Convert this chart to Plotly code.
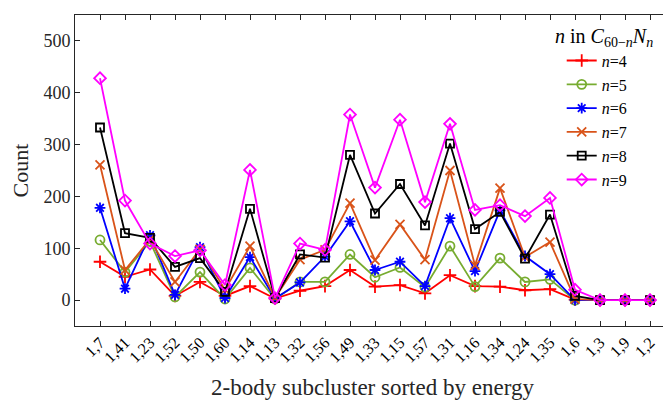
import plotly.graph_objects as go

categories = ["1,7", "1,41", "1,23", "1,52", "1,50", "1,60", "1,14", "1,13", "1,32", "1,56",
              "1,49", "1,33", "1,15", "1,57", "1,31", "1,16", "1,34", "1,24", "1,35", "1,6",
              "1,3", "1,9", "1,2"]

n4 = [74, 45, 59, 8, 35, 8, 27, 3, 18, 27, 58, 26, 29, 13, 48, 27, 26, 19, 21, 1, 0, 0, 0]
n5 = [116, 54, 113, 6, 54, 2, 62, 2, 35, 35, 88, 44, 63, 25, 104, 26, 81, 35, 40, 0, 0, 0, 0]
n6 = [178, 22, 125, 10, 102, 4, 83, 3, 34, 84, 152, 58, 74, 27, 158, 56, 173, 85, 50, 0, 0, 0, 0]
n7 = [261, 58, 117, 35, 98, 20, 104, 4, 78, 97, 187, 77, 146, 78, 250, 67, 216, 83, 112, 2, 0, 0, 0]
n8 = [333, 129, 120, 64, 81, 16, 176, 4, 88, 82, 280, 167, 224, 144, 302, 137, 170, 80, 165, 8, 0, 0, 0]
n9 = [428, 192, 109, 85, 96, 29, 251, 4, 109, 97, 358, 217, 348, 189, 340, 174, 183, 162, 197, 20, 0, 0, 0]

series = [
    ("4", n4, "#FF0000", "cross-thin-open"),
    ("5", n5, "#77AC30", "circle-open"),
    ("6", n6, "#0000FF", "asterisk-open"),
    ("7", n7, "#D95319", "x-thin-open"),
    ("8", n8, "#000000", "square-open"),
    ("9", n9, "#FF00FF", "diamond-open"),
]

xpos = list(range(len(categories)))

fig = go.Figure()
for name, vals, col, sym in series:
    fig.add_trace(go.Scatter(
        x=xpos, y=vals, mode="lines+markers",
        name="<i>n</i>=" + name,
        line=dict(color=col, width=1.8),
        marker=dict(symbol=sym, size=9 if sym != "square-open" else 8,
                    color=col, line=dict(color=col, width=1.8)),
    ))

serif = "Liberation Serif, Times New Roman, serif"
fig.update_layout(
    width=663, height=396,
    margin=dict(l=67, r=1, t=7, b=78, autoexpand=False),
    paper_bgcolor="white", plot_bgcolor="white",
    font=dict(family=serif, size=16, color="#262626"),
    showlegend=True,
    legend=dict(
        x=0.818, y=0.908, xanchor="left", yanchor="top",
        bgcolor="rgba(255,255,255,0)", borderwidth=0,
        font=dict(size=16, family=serif, color="#000"),
        tracegroupgap=0,
    ),
    annotations=[dict(
        text="<i>n</i> in <i>C</i><sub>60−<i>n</i></sub><i>N</i><sub><i>n</i></sub>",
        xref="paper", yref="paper", x=0.975, y=0.929, xanchor="right", yanchor="middle",
        showarrow=False, font=dict(size=20, family=serif, color="#000"),
    )],
    xaxis=dict(
        range=[-1, 22.8], automargin=False,
        tickmode="array", tickvals=xpos, ticktext=categories,
        tickangle=-45, tickfont=dict(size=16, family=serif, color="#000"),
        ticks="inside", ticklen=5, tickcolor="#262626",
        showline=True, linecolor="#262626", linewidth=1, mirror="ticks",
        showgrid=False, zeroline=False,
        title=dict(text="2-body subcluster sorted by energy",
                   font=dict(size=23, family=serif, color="#262626"), standoff=14),
    ),
    yaxis=dict(
        range=[-50, 550], automargin=False,
        tickvals=[0, 100, 200, 300, 400, 500],
        tickfont=dict(size=18, family=serif, color="#262626"),
        ticks="inside", ticklen=5, tickcolor="#262626",
        showline=True, linecolor="#262626", linewidth=1, mirror="ticks",
        showgrid=False, zeroline=False,
        title=dict(text="Count", font=dict(size=22, family=serif, color="#262626"), standoff=8),
    ),
)

fig.write_html("out.html")
